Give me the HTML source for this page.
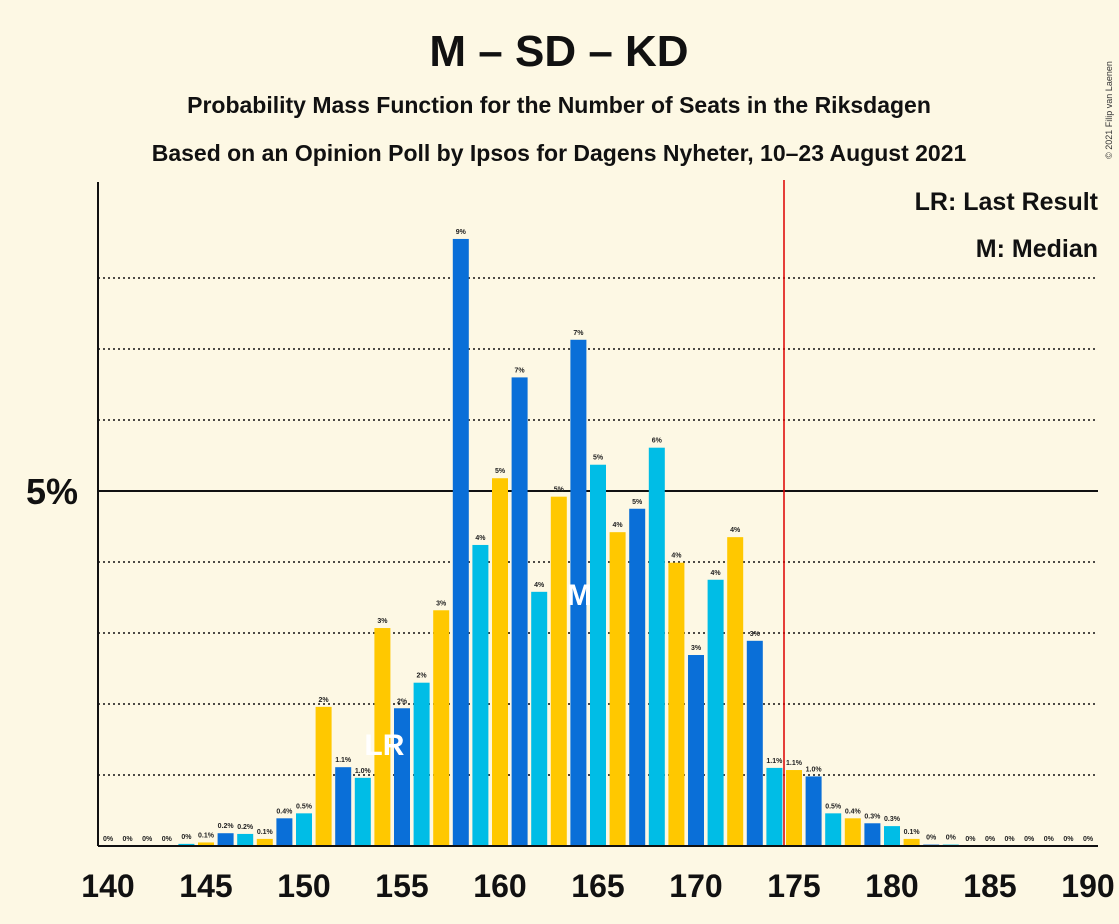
<!DOCTYPE html>
<html><head><meta charset="utf-8"><style>
body{margin:0;background:#fdf8e4;font-family:"Liberation Sans",sans-serif;}
svg{display:block}
</style></head><body>
<svg id="c" width="1119" height="924">
<rect width="1119" height="924" fill="#fdf8e4"/>
<text x="559" y="66" text-anchor="middle" font-size="44" font-weight="bold" fill="#111">M – SD – KD</text>
<text x="559" y="113" text-anchor="middle" font-size="23" font-weight="bold" fill="#111">Probability Mass Function for the Number of Seats in the Riksdagen</text>
<text x="559" y="161" text-anchor="middle" font-size="23" font-weight="bold" fill="#111">Based on an Opinion Poll by Ipsos for Dagens Nyheter, 10–23 August 2021</text>
<text x="1098" y="210" text-anchor="end" font-size="25" font-weight="bold" fill="#111">LR: Last Result</text>
<text x="1098" y="257" text-anchor="end" font-size="25" font-weight="bold" fill="#111">M: Median</text>
<text x="1112" y="110" font-size="9" fill="#333" transform="rotate(-90 1112 110)" text-anchor="middle">© 2021 Filip van Laenen</text>
<g id="grid"></g><g id="bars"></g><g id="axes"></g>
</svg>
<script>
const seats=[140,141,142,143,144,145,146,147,148,149,150,151,152,153,154,155,156,157,158,159,160,161,162,163,164,165,166,167,168,169,170,171,172,173,174,175,176,177,178,179,180,181,182,183,184,185,186,187,188,189,190];
const probs=[0,0,0,0,0.03,0.05,0.18,0.17,0.1,0.39,0.46,1.96,1.11,0.96,3.07,1.94,2.3,3.32,8.55,4.24,5.18,6.6,3.58,4.92,7.13,5.37,4.42,4.75,5.61,3.99,2.69,3.75,4.35,2.89,1.1,1.07,0.98,0.46,0.39,0.32,0.28,0.1,0.02,0.02,0,0,0,0,0,0,0];
const xTicks=[140,145,150,155,160,165,170,175,180,185,190];
const lastResult=154, median=164, majority=175;
const NS="http://www.w3.org/2000/svg";
const X0=108,DX=19.6,Y0=846,PY=71;
const xs=s=>X0+(s-140)*DX, ys=p=>Y0-p*PY;
function mk(t,a,parent,txt){const e=document.createElementNS(NS,t);for(const k in a)e.setAttribute(k,a[k]);if(txt!==undefined)e.textContent=txt;document.getElementById(parent).appendChild(e);return e;}
for(let p=1;p<=8;p++){
 const g=mk('line',{x1:98,x2:1098,y1:ys(p),y2:ys(p),stroke:'#111','stroke-width':p==5?2:1.5,'stroke-dasharray':p==5?'':'2,3'},'grid');
 
 
}
const yl=mk('text',{x:78,y:ys(5)+13,'text-anchor':'end','font-size':36,'font-weight':'bold',fill:'#111'},'axes','5%');


const cols=['#00bde6','#ffc800','#0a6fd8'];
const fmt=v=>v<0.05?'0%':(v<1.5?v.toFixed(1)+'%':Math.round(v)+'%');
seats.forEach((s,i)=>{
 const v=probs[i],x=xs(s),y=ys(v);
 const r=mk('rect',{x:x-8,y:y,width:16,height:Math.max(0,Y0-y),fill:cols[s%3]},'bars');
 
 
 const t=mk('text',{x:x,y:y-5,'text-anchor':'middle','font-size':7,'font-weight':'bold',fill:'#222'},'bars',fmt(v));
 
 
});
const lr=mk('text',{x:xs(lastResult)+2,y:ys(1.45)+12,'text-anchor':'middle','font-size':30,'font-weight':'bold',fill:'#fff'},'bars','LR');


const md=mk('text',{x:xs(median)+1,y:ys(3.55)+11,'text-anchor':'middle','font-size':30,'font-weight':'bold',fill:'#fff'},'bars','M');


const ml=mk('line',{x1:xs(majority)-10,x2:xs(majority)-10,y1:180,y2:Y0,stroke:'#d00','stroke-width':1.5},'axes');


const ya=mk('line',{x1:98,x2:98,y1:182,y2:Y0,stroke:'#111','stroke-width':2},'axes');


const xa=mk('line',{x1:98,x2:1098,y1:Y0,y2:Y0,stroke:'#111','stroke-width':2},'axes');


xTicks.forEach(s=>{
 const t=mk('text',{x:xs(s),y:897,'text-anchor':'middle','font-size':32,'font-weight':'bold',fill:'#111'},'axes',String(s));
 
 
});
</script>
</body></html>
